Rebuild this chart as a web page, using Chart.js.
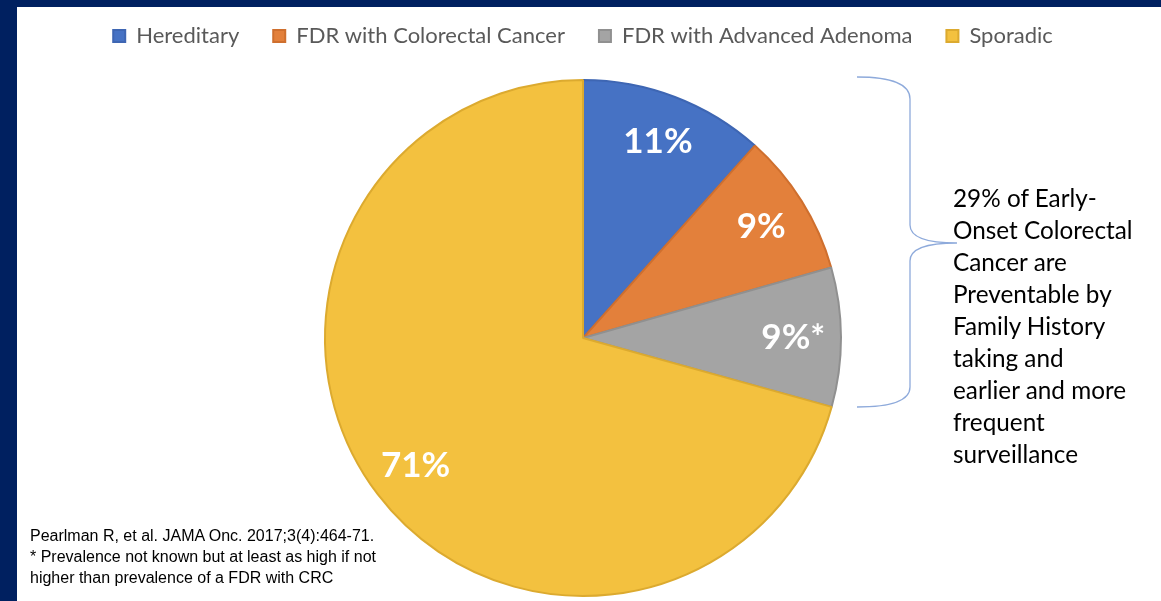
<!DOCTYPE html>
<html>
<head>
<meta charset="utf-8">
<script src="https://cdn.jsdelivr.net/npm/chart.js@4/dist/chart.umd.min.js"></script>
<style>
  html, body { margin: 0; padding: 0; }
  body { width: 1161px; height: 601px; background: #002060; overflow: hidden; position: relative; }
  #panel { position: absolute; left: 17px; top: 7px; width: 1144px; height: 594px; background: #ffffff; overflow: hidden; }
  #myChart { position: absolute; left: 0; top: -16px; }
  #note { position: absolute; left: 936px; top: 175px; font-family: Lato, sans-serif; font-size: 24.3px; line-height: 32px; color: #000; }
  #ref { position: absolute; left: 13px; top: 518px; font-family: "Liberation Sans", Arial, sans-serif; font-size: 16px; line-height: 21px; color: #000; }
</style>
</head>
<body>
<div id="panel">
  <canvas id="myChart" width="1144" height="634"></canvas>
  <div id="note">29% of Early-<br>Onset Colorectal<br>Cancer are<br>Preventable by<br>Family History<br>taking and<br>earlier and more<br>frequent<br>surveillance</div>
  <div id="ref">Pearlman R, et al. JAMA Onc. 2017;3(4):464-71.<br>* Prevalence not known but at least as high if not<br>higher than prevalence of a FDR with CRC</div>
</div>
<script>
// values
var categories = ["Hereditary", "FDR with Colorectal Cancer", "FDR with Advanced Adenoma", "Sporadic"];
var shares = [11.6, 9.0, 8.7, 70.7];
var sliceLabels = ["11%", "9%", "9%*", "71%"];
var sliceColors = ["#4672c4", "#e3803b", "#a4a4a4", "#f3c13f"];
var edgeColors = ["#3e66b3", "#cf6f2e", "#909090", "#dcaa2f"];

// white percentage text inside each slice
var sliceText = {
  id: "sliceText",
  afterDatasetsDraw: function (chart) {
    var ctx = chart.ctx;
    var arcs = chart.getDatasetMeta(0).data;
    ctx.save();
    ctx.font = "bold 35px Lato";
    ctx.fillStyle = "#ffffff";
    ctx.textAlign = "center";
    ctx.textBaseline = "middle";
    arcs.forEach(function (arc, i) {
      var mid = (arc.startAngle + arc.endAngle) / 2;
      var r = arc.outerRadius * 0.815;
      ctx.fillText(sliceLabels[i], arc.x + Math.cos(mid) * r, arc.y + Math.sin(mid) * r);
    });
    ctx.restore();
  }
};

// curly brace next to the three smaller slices (canvas sits 16px higher)
var brace = {
  id: "brace",
  afterDraw: function (chart) {
    var ctx = chart.ctx;
    ctx.save();
    ctx.translate(0, 16);
    ctx.strokeStyle = "#8eaadb";
    ctx.lineWidth = 1.3;
    ctx.beginPath();
    ctx.moveTo(840, 70);
    ctx.quadraticCurveTo(893, 70, 893, 92);
    ctx.lineTo(893, 218);
    ctx.quadraticCurveTo(893, 236, 940, 236);
    ctx.quadraticCurveTo(893, 236, 893, 254);
    ctx.lineTo(893, 380);
    ctx.quadraticCurveTo(893, 400, 840, 400);
    ctx.stroke();
    ctx.restore();
  }
};

new Chart("myChart", {
  type: "pie",
  data: {
    labels: categories,
    datasets: [
      {
        data: shares,
        backgroundColor: sliceColors,
        borderColor: edgeColors,
        borderWidth: 2,
      },
    ],
  },
  options: {
    responsive: false,
    animation: false,
    radius: 258,
    layout: { padding: { top: 0, right: 12, bottom: 6, left: 0 } },
    plugins: {
      tooltip: { enabled: false },
      legend: {
        display: true,
        position: "top",
        labels: {
          boxWidth: 12,
          boxHeight: 12,
          padding: 34,
          color: "#595959",
          font: { family: "Lato", size: 22 },
        },
      },
    },
  },
  plugins: [sliceText, brace],
});
</script>
</body>
</html>
